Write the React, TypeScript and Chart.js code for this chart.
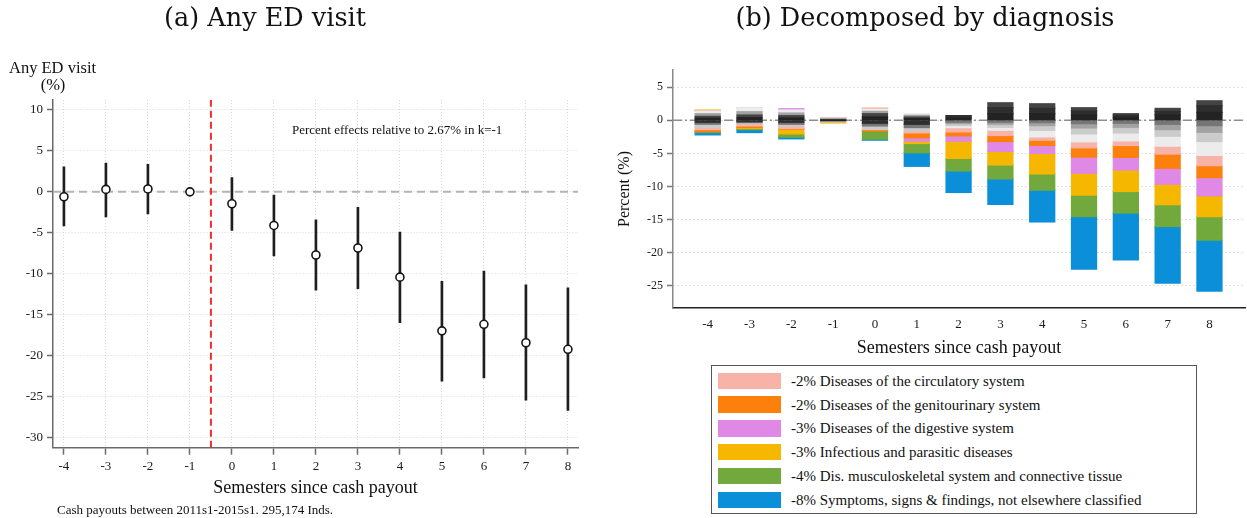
import React, { useEffect, useRef } from "react";
import { Chart, registerables } from "chart.js";

Chart.register(...registerables);

const SERIF = "'Liberation Serif', 'Times New Roman', serif";

// ---------------- Panel (a): Any ED visit ----------------
const semesters = [-4, -3, -2, -1, 0, 1, 2, 3, 4, 5, 6, 7, 8];
const anyEdEstimate = [-0.6, 0.3, 0.35, 0, -1.45, -4.1, -7.7, -6.85, -10.4, -16.95, -16.15, -18.4, -19.2];
const anyEdLower = [-4.15, -3.05, -2.7, null, -4.7, -7.8, -12.0, -11.8, -15.95, -23.1, -22.7, -25.4, -26.65];
const anyEdUpper = [3.05, 3.5, 3.35, null, 1.75, -0.4, -3.4, -1.9, -4.9, -10.9, -9.65, -11.35, -11.7];
const panelAYTicks = [10, 5, 0, -5, -10, -15, -20, -25, -30];
const panelAXRange = [-4.26, 8.24];
const panelAYRange = [-31.2, 11.2];
const payoutSemester = -0.5;

// ---------------- Panel (b): Decomposed by diagnosis ----------------
const panelBYTicks = [5, 0, -5, -10, -15, -20, -25];
const panelBXRange = [-4.83, 8.85];
const panelBYRange = [-28.35, 7.6];

// other (grey) diagnosis groups, darkest to lightest
const otherDx1 = [0.3, 0.4, 0.35, 0, 0.5, 0.25, 0.35, 1.0, 1.0, 0.8, 0.4, 0.8, 1.2];
const otherDx2 = [-0.3, -0.2, -0.3, 0, -0.45, -0.6, 0.35, 0.9, 0.8, 0.6, 0.35, 0.55, 1.0];
const otherDx3 = [0.3, 0.4, 0.35, 0.1, 0.5, 0.25, 0, 0.75, 0.7, 0.5, 0.25, 0.45, 0.75];
const otherDx4 = [-0.3, -0.15, -0.3, -0.12, -0.4, -0.5, -0.3, -0.3, -0.35, -0.5, -0.45, -0.6, -0.8];
const otherDx5 = [0.4, 0.5, 0.4, 0.15, 0.35, 0.25, -0.2, -0.3, -0.45, -0.65, -0.6, -0.8, -1.0];
const otherDx6 = [-0.5, -0.15, -0.3, -0.13, -0.55, -0.5, -0.3, -0.45, -0.7, -0.9, -0.85, -1.0, -1.4];
const otherDx7 = [0.4, 0.6, 0.45, 0.1, 0.3, 0.25, -0.3, -0.45, -1.0, -1.2, -1.2, -1.5, -2.1];
const otherDxSeries = [otherDx1, otherDx2, otherDx3, otherDx4, otherDx5, otherDx6, otherDx7];
const otherDxColors = ["#232323", "#2e2e2e", "#444444", "#767676", "#a2a2a2", "#cbcbcb", "#ececec"];

const circulatory = [-0.3, -0.35, -0.35, 0, 0.15, -0.3, -0.65, -0.8, -0.5, -0.9, -0.7, -1.2, -1.55];
const genitourinary = [-0.3, -0.25, -0.1, 0, -0.25, -0.75, -0.6, -0.9, -0.8, -1.4, -1.8, -2.15, -1.8];
const digestive = [0, 0, 0.2, 0, 0, -0.5, -0.8, -1.5, -1.2, -2.45, -1.9, -2.4, -2.75];
const infectious = [0.15, -0.15, -0.7, -0.15, 0, -0.35, -2.6, -2.05, -3.1, -3.3, -3.25, -3.1, -3.15];
const musculoskeletal = [-0.15, -0.15, -0.5, 0, -1.2, -1.4, -1.9, -2.1, -2.45, -3.25, -3.25, -3.3, -3.55];
const symptoms = [-0.35, -0.45, -0.25, 0, -0.15, -2.05, -3.25, -3.85, -4.8, -7.95, -7.1, -8.55, -7.7];
const diagnosisSeries = [circulatory, genitourinary, digestive, infectious, musculoskeletal, symptoms];
const diagnosisLabels = [
  "-2% Diseases of the circulatory system",
  "-2% Diseases of the genitourinary system",
  "-3% Diseases of the digestive system",
  "-3% Infectious and parasitic diseases",
  "-4% Dis. musculoskeletal system and connective tissue",
  "-8% Symptoms, signs & findings, not elsewhere classified",
];
const diagnosisColors = ["#f8b3a8", "#fd7f0c", "#e088e6", "#f6b700", "#71a93c", "#0a8fd8"];

function fixedTicks(values: number[]) {
  return (scale: any) => {
    scale.ticks = values.map((v) => ({ value: v }));
  };
}

function PanelA() {
  const ref = useRef<HTMLCanvasElement>(null);
  useEffect(() => {
    if (!ref.current) return;
    const ciData = semesters
      .map((x, i) =>
        anyEdLower[i] == null ? null : { x, y: [anyEdLower[i] as number, anyEdUpper[i] as number] }
      )
      .filter((d) => d !== null);
    const gridCommon = {
      color: "#d9d9d9",
      lineWidth: 1,
      tickColor: "#6a6a6a",
      tickWidth: 1.5,
      tickBorderDash: [],
      offset: false,
    };
    const chart = new Chart(ref.current, {
      type: "scatter",
      data: {
        datasets: [
          {
            type: "scatter",
            label: "Estimate",
            data: semesters.map((x, i) => ({ x, y: anyEdEstimate[i] })),
            pointRadius: 4,
            pointBackgroundColor: "#ffffff",
            pointBorderColor: "#151515",
            pointBorderWidth: 1.6,
            order: 0,
          },
          {
            type: "bar",
            label: "95% CI",
            data: ciData as any,
            backgroundColor: "#1e1e1e",
            barThickness: 2,
            order: 1,
          },
          {
            type: "line",
            label: "Cash payout",
            data: [
              { x: payoutSemester, y: panelAYRange[0] },
              { x: payoutSemester, y: panelAYRange[1] },
            ],
            borderColor: "#f22d2d",
            borderWidth: 2,
            borderDash: [7, 4],
            pointRadius: 0,
            showLine: true,
            order: 2,
          },
          {
            type: "line",
            label: "Zero",
            data: [
              { x: panelAXRange[0], y: 0 },
              { x: panelAXRange[1], y: 0 },
            ],
            borderColor: "#b4b4b4",
            borderWidth: 2,
            borderDash: [8, 5],
            pointRadius: 0,
            showLine: true,
            order: 3,
          },
        ],
      } as any,
      options: {
        animation: false,
        responsive: false,
        devicePixelRatio: 1,
        layout: { padding: { top: 100, left: 0, right: 22, bottom: 0 } },
        plugins: { legend: { display: false }, tooltip: { enabled: false } },
        scales: {
          x: {
            type: "linear",
            offset: false,
            min: panelAXRange[0],
            max: panelAXRange[1],
            afterBuildTicks: fixedTicks(semesters),
            afterFit: (s: any) => {
              s.height = 70.3;
            },
            grid: { ...gridCommon, tickLength: 7 },
            border: { color: "#6a6a6a", width: 1.5, dash: [1, 2] },
            ticks: {
              font: { family: SERIF, size: 13 },
              color: "#1a1a1a",
              padding: 4,
              autoSkip: false,
              maxRotation: 0,
            },
            title: {
              display: true,
              text: "Semesters since cash payout",
              font: { family: SERIF, size: 18 },
              color: "#111",
              padding: { top: 0, bottom: 19 },
            },
          },
          y: {
            type: "linear",
            min: panelAYRange[0],
            max: panelAYRange[1],
            afterBuildTicks: fixedTicks(panelAYTicks),
            afterFit: (s: any) => {
              s.width = 53;
            },
            grid: { ...gridCommon, tickLength: 6 },
            border: { color: "#6a6a6a", width: 1.5, dash: [1, 2] },
            ticks: { font: { family: SERIF, size: 13 }, color: "#1a1a1a", padding: 4 },
          },
        },
      } as any,
    });
    return () => chart.destroy();
  }, []);
  return (
    <canvas
      ref={ref}
      width={600}
      height={518}
      style={{ position: "absolute", left: 0, top: 0, width: 600, height: 518 }}
    />
  );
}

function PanelB() {
  const ref = useRef<HTMLCanvasElement>(null);
  useEffect(() => {
    if (!ref.current) return;
    const barCommon = {
      type: "bar",
      grouped: false,
      barPercentage: 0.6,
      categoryPercentage: 1,
      borderWidth: 0,
      inflateAmount: 0.6,
    };
    const greyDatasets = otherDxSeries.map((series, k) => ({
      ...barCommon,
      label: "Other diagnoses " + (k + 1),
      data: semesters.map((x, i) => ({ x, y: series[i] })),
      backgroundColor: otherDxColors[k],
    }));
    const colouredDatasets = diagnosisSeries.map((series, k) => ({
      ...barCommon,
      label: diagnosisLabels[k],
      data: semesters.map((x, i) => ({ x, y: series[i] })),
      backgroundColor: diagnosisColors[k],
    }));
    const chart = new Chart(ref.current, {
      type: "bar",
      data: {
        datasets: [
          ...greyDatasets,
          ...colouredDatasets,
          {
            type: "line",
            label: "Zero",
            data: [
              { x: panelBXRange[0], y: 0 },
              { x: panelBXRange[1], y: 0 },
            ],
            borderColor: "#8e8e8e",
            borderWidth: 1.5,
            borderDash: [9, 3, 2, 3],
            pointRadius: 0,
            order: 5,
          },
        ],
      } as any,
      options: {
        animation: false,
        responsive: false,
        devicePixelRatio: 1,
        layout: { padding: { top: 70, left: 0, right: 2, bottom: 0 } },
        plugins: { legend: { display: false }, tooltip: { enabled: false } },
        scales: {
          x: {
            type: "linear",
            offset: false,
            min: panelBXRange[0],
            max: panelBXRange[1],
            afterBuildTicks: fixedTicks(semesters),
            afterFit: (s: any) => {
              s.height = 52;
            },
            grid: { display: false, drawTicks: false, offset: false },
            border: { color: "#222", width: 1.5 },
            ticks: {
              font: { family: SERIF, size: 13 },
              color: "#1a1a1a",
              padding: 9,
              autoSkip: false,
              maxRotation: 0,
            },
            title: {
              display: true,
              text: "Semesters since cash payout",
              font: { family: SERIF, size: 18 },
              color: "#111",
              padding: { top: 0, bottom: 1 },
            },
          },
          y: {
            type: "linear",
            stacked: true,
            min: panelBYRange[0],
            max: panelBYRange[1],
            afterBuildTicks: fixedTicks(panelBYTicks),
            afterFit: (s: any) => {
              s.width = 73;
            },
            grid: {
              color: "#c4c4c4",
              lineWidth: 1,
              tickColor: "#777",
              tickWidth: 1.5,
              tickLength: 6,
              tickBorderDash: [],
            },
            border: { color: "#888", width: 1.5, dash: [1, 3] },
            ticks: { font: { family: SERIF, size: 12 }, color: "#1a1a1a", padding: 4 },
            title: {
              display: true,
              text: "Percent (%)",
              font: { family: SERIF, size: 16 },
              color: "#111",
              padding: { top: 15, bottom: 0 },
            },
          },
        },
      } as any,
    });
    return () => chart.destroy();
  }, []);
  return (
    <canvas
      ref={ref}
      width={647}
      height={360}
      style={{ position: "absolute", left: 600, top: 0, width: 647, height: 360 }}
    />
  );
}

function Text(props: {
  x: number;
  y: number;
  size: number;
  children: React.ReactNode;
  center?: boolean;
  family?: string;
}) {
  const { x, y, size, center, family } = props;
  return (
    <div
      style={{
        position: "absolute",
        left: x,
        top: y - size / 2,
        fontFamily: family || SERIF,
        fontSize: size,
        lineHeight: 1,
        whiteSpace: "nowrap",
        color: "#111",
        transform: center ? "translateX(-50%)" : undefined,
      }}
    >
      {props.children}
    </div>
  );
}

function Legend() {
  return (
    <div
      style={{
        position: "absolute",
        left: 711,
        top: 365,
        width: 484,
        height: 147,
        border: "1.5px solid #555",
        background: "#fff",
      }}
    >
      {diagnosisLabels.map((label, i) => (
        <div key={label}>
          <div
            style={{
              position: "absolute",
              left: 6,
              top: 6.5 + i * 23.8,
              width: 63,
              height: 16.5,
              background: diagnosisColors[i],
            }}
          />
          <div
            style={{
              position: "absolute",
              left: 79,
              top: 6.5 + i * 23.8 + 8.25 - 8,
              fontFamily: SERIF,
              fontSize: 15,
              lineHeight: "16px",
              whiteSpace: "nowrap",
              color: "#111",
            }}
          >
            {label}
          </div>
        </div>
      ))}
    </div>
  );
}

export default function App() {
  return (
    <div
      style={{
        position: "absolute",
        left: 0,
        top: 0,
        width: 1247,
        height: 518,
        background: "#fff",
        overflow: "hidden",
      }}
    >
      <PanelA />
      <PanelB />
      <Text x={265} y={18} size={25.5} center family="'DejaVu Serif', serif">
        (a) Any ED visit
      </Text>
      <Text x={925} y={18} size={25.5} center family="'DejaVu Serif', serif">
        (b) Decomposed by diagnosis
      </Text>
      <Text x={9} y={68} size={16.5}>
        Any ED visit
      </Text>
      <Text x={53} y={85} size={16.5} center>
        (%)
      </Text>
      <Text x={292} y={129} size={13}>
        Percent effects relative to 2.67% in k=-1
      </Text>
      <Text x={57} y={509} size={13}>
        Cash payouts between 2011s1-2015s1. 295,174 Inds.
      </Text>
      <Legend />
    </div>
  );
}
